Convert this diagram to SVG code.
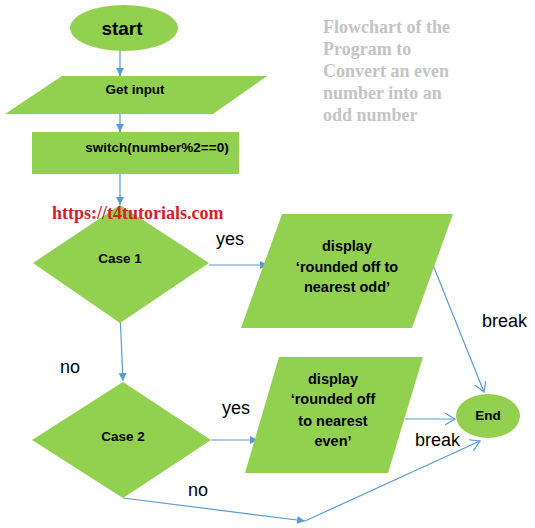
<svg xmlns="http://www.w3.org/2000/svg" width="535" height="528" viewBox="0 0 535 528">
<style>
.shape{fill:#92d050;stroke:none}
.t{font-family:"Liberation Sans",Arial,sans-serif;font-weight:bold;font-size:13.5px;fill:#000;text-anchor:middle}
.d{font-size:14.5px}
.lbl{font-family:"Liberation Sans",Arial,sans-serif;font-size:18px;fill:#000}
.title{font-family:"Liberation Serif","Times New Roman",serif;font-weight:bold;font-size:18px;fill:#c4c4c4}
.url{font-family:"Liberation Serif","Times New Roman",serif;font-weight:bold;font-size:18px;fill:#d0222a}
.c{fill:none;stroke:#5b9bd5;stroke-width:1.2}
.ca{marker-end:url(#fa)}
.co{marker-end:url(#oa)}
</style>
<defs>
<marker id="fa" markerWidth="10" markerHeight="10" refX="8" refY="4" orient="auto" markerUnits="userSpaceOnUse">
<path d="M0,0 L8,4 L0,8 Z" fill="#5b9bd5"/>
</marker>
<marker id="oa" markerWidth="14" markerHeight="14" refX="10" refY="6" orient="auto" markerUnits="userSpaceOnUse">
<path d="M0,0 L10,6 L0,12" fill="none" stroke="#5b9bd5" stroke-width="1.2"/>
</marker>
</defs>
<rect width="535" height="528" fill="#fff"/>
<g id="title">
<text class="title" x="323" y="33">Flowchart of the</text>
<text class="title" x="323" y="55">Program to</text>
<text class="title" x="323" y="77">Convert an even</text>
<text class="title" x="323" y="99">number into an</text>
<text class="title" x="323" y="121">odd number</text>
</g>
<g id="connectors">
<line class="c ca" x1="120" y1="50" x2="120" y2="76"/>
<line class="c ca" x1="120" y1="114" x2="120" y2="132"/>
<line class="c ca" x1="120" y1="174" x2="120" y2="205"/>
<line class="c ca" x1="209" y1="265" x2="268" y2="265"/>
<line class="c ca" x1="120" y1="313" x2="123" y2="381"/>
<line class="c ca" x1="211" y1="440" x2="258" y2="440"/>
<line class="c co" x1="433" y1="265" x2="484" y2="392"/>
<line class="c co" x1="405" y1="419" x2="455" y2="419"/>
<line class="c ca" x1="123" y1="498" x2="305" y2="521"/>
<line class="c co" x1="305" y1="521" x2="480" y2="441"/>
</g>
<g id="start">
<ellipse class="shape" cx="124" cy="28" rx="54" ry="23"/>
<text class="t" x="122" y="35" style="font-size:19px">start</text>
</g>
<g id="getinput">
<polygon class="shape" points="62,76 267,76 213,114 5,114"/>
<text class="t" x="135" y="94">Get input</text>
</g>
<g id="switch">
<rect class="shape" x="32" y="132" width="207" height="42"/>
<text class="t" x="157" y="152">switch(number%2==0)</text>
</g>
<g id="case1">
<polygon class="shape" points="120,205 209,263 120,323 33,263"/>
<text class="t" x="120" y="263">Case 1</text>
</g>
<g id="display1">
<polygon class="shape" points="282,214 453,214 412,328 241,328"/>
<text class="t d" x="347" y="251">display</text>
<text class="t d" x="347" y="272">‘rounded off to</text>
<text class="t d" x="347" y="292">nearest odd’</text>
</g>
<g id="case2">
<polygon class="shape" points="123,382 211,440 123,498 32,440"/>
<text class="t" x="123" y="441">Case 2</text>
</g>
<g id="display2">
<polygon class="shape" points="279,357 423,357 388,473 245,473"/>
<text class="t d" x="333" y="384">display</text>
<text class="t d" x="333" y="404">‘rounded off</text>
<text class="t d" x="333" y="426">to nearest</text>
<text class="t d" x="333" y="446">even’</text>
</g>
<g id="end">
<ellipse class="shape" cx="488" cy="416" rx="32" ry="22"/>
<text class="t" x="488" y="420">End</text>
</g>
<text class="url" x="52" y="219">https://t4tutorials.com</text>
<g id="labels">
<text class="lbl" x="216" y="245">yes</text>
<text class="lbl" x="60" y="373">no</text>
<text class="lbl" x="222" y="414">yes</text>
<text class="lbl" x="188" y="496">no</text>
<text class="lbl" x="482" y="327">break</text>
<text class="lbl" x="415" y="446">break</text>
</g>
</svg>
